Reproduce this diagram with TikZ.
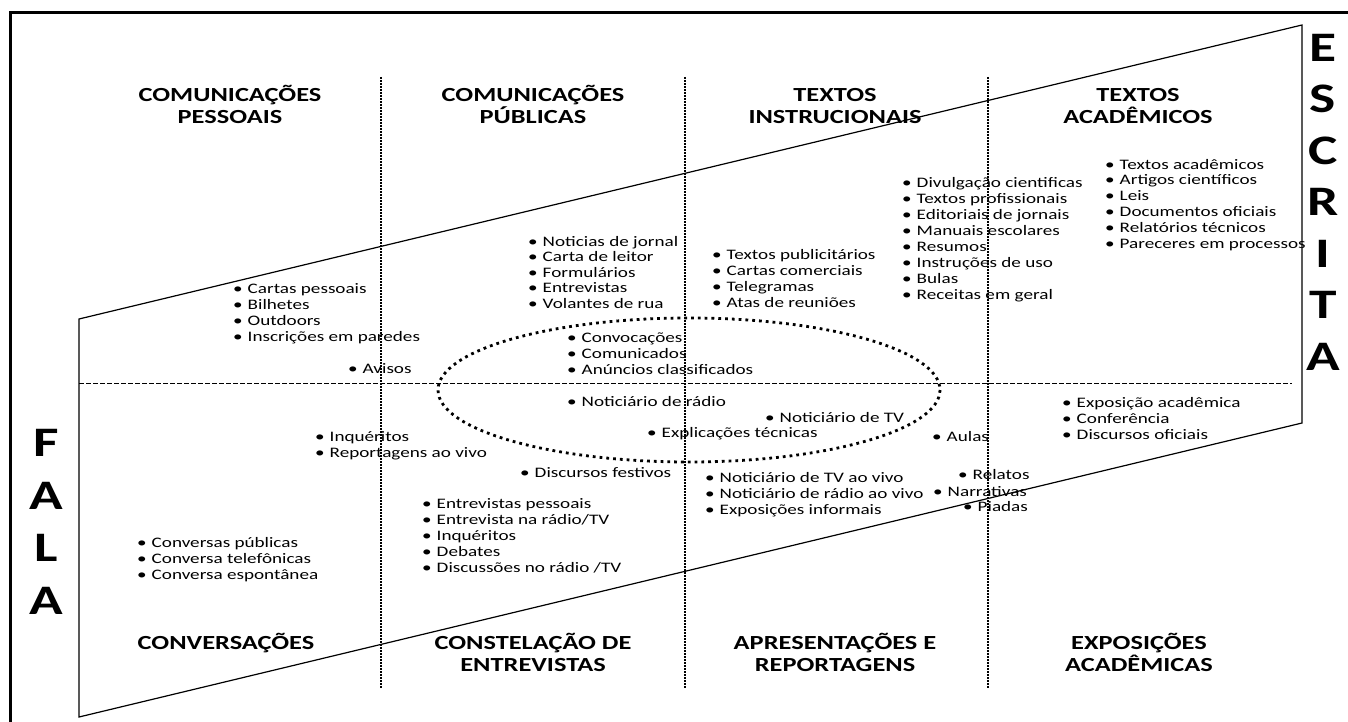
\documentclass[tikz,border=0pt]{standalone}
\usepackage{fontspec}
\setmainfont{Carlito}[FakeStretch=1.32]
\newcommand{\bu}{\textbullet\hspace{5pt}}
\tikzset{
  item/.style={anchor=base west, align=left, inner sep=0pt, font=\fontsize{14.5}{16}\selectfont},
  head/.style={anchor=base, align=center, inner sep=0pt, font=\bfseries\fontsize{20}{22}\selectfont},
  big/.style={anchor=base, align=center, inner sep=0pt, font=\bfseries\fontsize{42}{51.5}\selectfont},
  sep/.style={line width=1.1pt, dash pattern=on 2pt off 1pt},
}
\begin{document}
\begin{tikzpicture}[x=1pt,y=-1pt]
\useasboundingbox (0,0) rectangle (1348,722);
% frame
\draw [line width=3pt] (10,722) -- (10,13) -- (1348,13);
% parallelogram
\coordinate (tl) at (79,319);
\coordinate (tr) at (1302,25);
\coordinate (br) at (1302,423);
\coordinate (bl) at (79,717);
\draw [line width=1.2pt] (bl) -- (tl) -- (tr) -- (br) -- cycle;
% axes
\draw [line width=1pt, dash pattern=on 5pt off 2pt] (79,383) -- (1292,383);
\draw [sep] (381,77) -- (381,688);
\draw [sep] (685,77) -- (685,688);
\draw [sep] (988,77) -- (988,688);
\draw [line width=2.8pt, dash pattern=on 2.8pt off 4pt] (689,390) ellipse [x radius=251, y radius=72];
% side words (anchored at the last line)
\node [big] (escrita) at (1323,370) {E\\S\\C\\R\\I\\T\\A};
\node [big, font=\bfseries\fontsize{42}{52.5}\selectfont] (fala) at (46,614) {F\\A\\L\\A};
% headings
\node [head] (hpess) at (230,123.5) {COMUNICAÇÕES\\PESSOAIS};
\node [head] (hpub) at (533,123.5) {COMUNICAÇÕES\\PÚBLICAS};
\node [head] (hinstr) at (835,123.5) {TEXTOS\\INSTRUCIONAIS};
\node [head] (hacad) at (1138,123.5) {TEXTOS\\ACADÊMICOS};
\node [head] (hconv) at (226,649.5) {CONVERSAÇÕES};
\node [head] (hconst) at (533,671.5) {CONSTELAÇÃO DE\\ENTREVISTAS};
\node [head] (hapres) at (835,671.5) {APRESENTAÇÕES E\\REPORTAGENS};
\node [head] (hexpo) at (1139,671.5) {EXPOSIÇÕES\\ACADÊMICAS};
% lists
\node [item] (pessoais) at (233,341) {\bu Cartas pessoais\\\bu Bilhetes\\\bu Outdoors\\\bu Inscrições em paredes};
\node [item] (avisos) at (348,373) {\bu Avisos};
\node [item, font=\fontsize{14.5}{15.5}\selectfont] (jornal) at (528,308) {\bu Noticias de jornal\\\bu Carta de leitor\\\bu Formulários\\\bu Entrevistas\\\bu Volantes de rua};
\node [item] (publicit) at (712,307) {\bu Textos publicitários\\\bu Cartas comerciais\\\bu Telegramas\\\bu Atas de reuniões};
\node [item] (divulg) at (902,299) {\bu Divulgação cientificas\\\bu Textos profissionais\\\bu Editoriais de jornais\\\bu Manuais escolares\\\bu Resumos\\\bu Instruções de uso\\\bu Bulas\\\bu Receitas em geral};
\node [item, font=\fontsize{14.5}{15.8}\selectfont] (academ) at (1105,248) {\bu Textos acadêmicos\\\bu Artigos científicos\\\bu Leis\\\bu Documentos oficiais\\\bu Relatórios técnicos\\\bu Pareceres em processos};
\node [item] (convoc) at (567,374) {\bu Convocações\\\bu Comunicados\\\bu Anúncios classificados};
\node [item] (radio) at (567,406) {\bu Noticiário de rádio};
\node [item] (tv) at (765,422) {\bu Noticiário de TV};
\node [item] (explic) at (647,437) {\bu Explicações técnicas};
\node [item] (aulas) at (932,441) {\bu Aulas};
\node [item] (inquer) at (315,457) {\bu Inquéritos\\\bu Reportagens ao vivo};
\node [item] (festivos) at (520,477) {\bu Discursos festivos};
\node [item] (aovivo) at (705,514) {\bu Noticiário de TV ao vivo\\\bu Noticiário de rádio ao vivo\\\bu Exposições informais};
\node [item] (relatos) at (958,479) {\bu Relatos};
\node [item] (narrat) at (933,496) {\bu Narrativas};
\node [item] (piadas) at (963,511) {\bu Piadas};
\node [item] (exposic) at (1062,439) {\bu Exposição acadêmica\\\bu Conferência\\\bu Discursos oficiais};
\node [item] (entrev) at (422,572) {\bu Entrevistas pessoais\\\bu Entrevista na rádio/TV\\\bu Inquéritos\\\bu Debates\\\bu Discussões no rádio /TV};
\node [item] (conversas) at (137,579) {\bu Conversas públicas\\\bu Conversa telefônicas\\\bu Conversa espontânea};
\end{tikzpicture}
\end{document}
